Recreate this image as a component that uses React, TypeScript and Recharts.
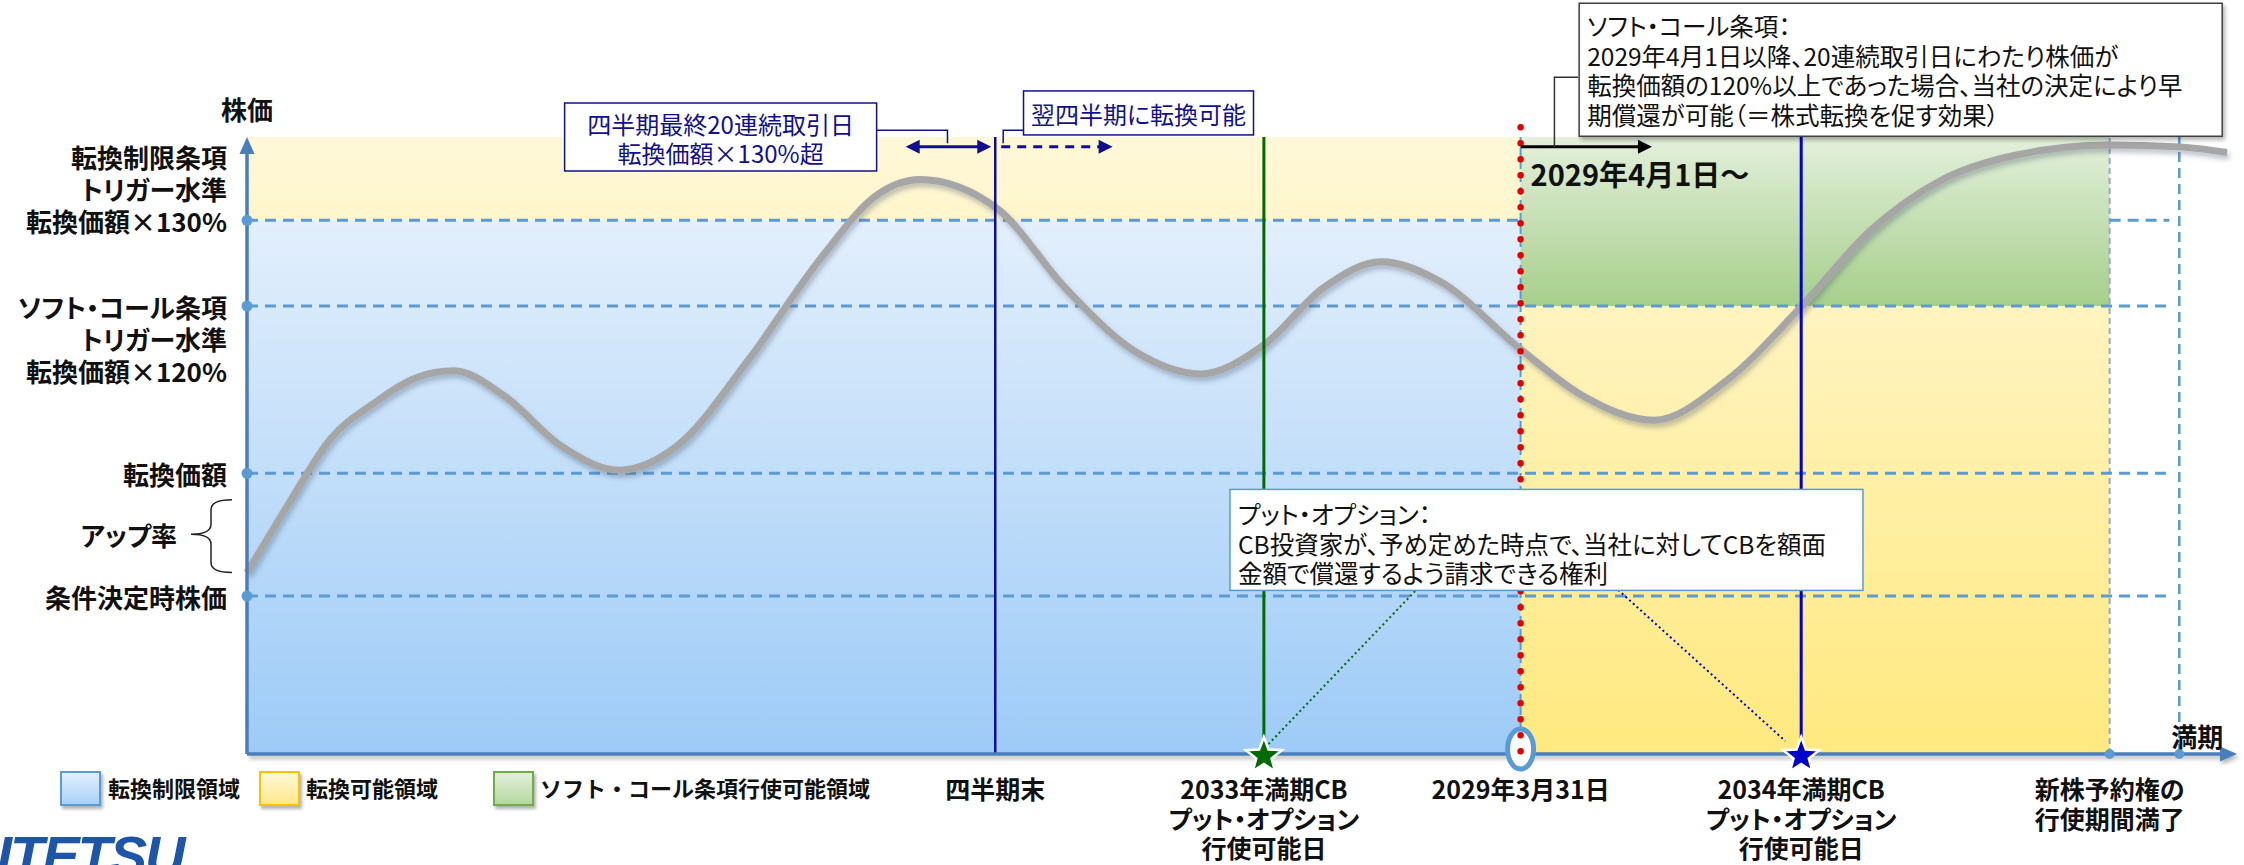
import React from 'react'
import { ComposedChart, Line, XAxis, YAxis, ReferenceArea, ReferenceLine, ReferenceDot } from 'recharts'

document.body.style.margin = '0'
document.body.style.overflow = 'hidden'

const JP = '"Noto Sans CJK JP", "Noto Sans", sans-serif'

// stock price path: time 0-100 along the x axis, price index 0-100
const timeline = [0, 2.1, 4.2, 6.4, 8.6, 10.4, 12.9, 15.8, 18.7, 21.6, 25.2, 28.8, 31.7, 33.8, 37.7, 41.1, 44.7, 47.9, 51.1, 54.1, 57.0, 59.9, 64.0, 67.1, 70.7, 74.3, 78.1, 81.6, 85.2, 88.8, 93.6, 97.1, 99.5]
const price = [29.4, 40.6, 51.1, 56.9, 61.1, 62.1, 58.1, 49.9, 46.0, 49.9, 63.9, 80.2, 90.7, 93.1, 88.4, 75.6, 65.1, 61.6, 66.3, 75.6, 79.8, 76.7, 65.6, 58.1, 54.1, 60.4, 72.5, 84.9, 93.1, 97.0, 98.7, 98.4, 97.5]

// price levels on the y axis
const levelValues = [86.5, 72.6, 45.5, 25.6]
const levelLabels = [
  ['転換制限条項', 'トリガー水準', '転換価額×130%'],
  ['ソフト・コール条項', 'トリガー水準', '転換価額×120%'],
  ['転換価額'],
  ['条件決定時株価'],
]
const levelAnchorLine = [2, 0, 0, 0]
const upRateRange = [29.4, 41.2]

// events on the time axis
const eventTimes = [37.6, 51.1, 64.0, 78.1, 93.6]
const eventLabels = [
  ['四半期末'],
  ['2033年満期CB', 'プット・オプション', '行使可能日'],
  ['2029年3月31日'],
  ['2034年満期CB', 'プット・オプション', '行使可能日'],
  ['新株予約権の', '行使期間満了'],
]
const maturityTime = 97.1
const callStartTime = 64.0
const warrantEndTime = 93.6

const legendLabels = ['転換制限領域', '転換可能領域', 'ソフト・コール条項行使可能領域']

const quarterNote = ['四半期最終20連続取引日', '転換価額×130%超']
const nextQuarterNote = ['翌四半期に転換可能']
const softCallNote = [
  'ソフト・コール条項：',
  '2029年4月1日以降、20連続取引日にわたり株価が',
  '転換価額の120%以上であった場合、当社の決定により早',
  '期償還が可能（＝株式転換を促す効果）',
]
const putNote = [
  'プット・オプション：',
  'CB投資家が、予め定めた時点で、当社に対してCBを額面',
  '金額で償還するよう請求できる権利',
]

const data = timeline.map((t, i) => ({ t, price: price[i] }))

const AXIS = '#4A7EBB'
const GUIDE = '#5B9BD5'
const NAVY = '#10108F'
const GREEN = '#006B00'
const BLUE = '#0000CC'
const RED = '#E00000'

const head = (x: number, y: number, ang: number, len: number, w: number, color: string) => {
  const bx = x - len * Math.cos(ang)
  const by = y - len * Math.sin(ang)
  const px = (-Math.sin(ang) * w) / 2
  const py = (Math.cos(ang) * w) / 2
  return <polygon points={`${x},${y} ${bx + px},${by + py} ${bx - px},${by - py}`} fill={color} />
}

const arrowShape = (color: string, width: number, opt: any = {}) => (p: any) => {
  const { x1, y1, x2, y2 } = p
  const len = opt.len ?? 14
  const w = opt.w ?? 14
  const ang = Math.atan2(y2 - y1, x2 - x1)
  const sx = opt.start ? x1 + len * 0.8 * Math.cos(ang) : x1
  const sy = opt.start ? y1 + len * 0.8 * Math.sin(ang) : y1
  const ex = x2 - len * 0.8 * Math.cos(ang)
  const ey = y2 - len * 0.8 * Math.sin(ang)
  return (
    <g filter={opt.shadow ? 'url(#softShadow)' : undefined}>
      <line x1={sx} y1={sy} x2={ex} y2={ey} stroke={color} strokeWidth={width} strokeDasharray={opt.dash} />
      {opt.start && head(x1, y1, ang + Math.PI, len, w, color)}
      {head(x2, y2, ang, len, w, color)}
    </g>
  )
}

const elbowShape = (color: string) => (p: any) => (
  <path d={`M${p.x1},${p.y1}H${p.x2}V${p.y2}`} fill="none" stroke={color} strokeWidth={1.5} />
)

const braceShape = (p: any) => {
  const x = p.x1
  const top = Math.min(p.y1, p.y2)
  const bot = Math.max(p.y1, p.y2)
  const xr = x - 15
  const xm = x - 36
  const xl = x - 56
  const mid = (top + bot) / 2 - 2
  const r = 10
  const d = `M${xr},${top} Q${xm},${top} ${xm},${top + r} L${xm},${mid - r} Q${xm},${mid} ${xl},${mid} Q${xm},${mid} ${xm},${mid + r} L${xm},${bot - r} Q${xm},${bot} ${xr},${bot}`
  return (
    <g>
      <path d={d} fill="none" stroke="#222" strokeWidth={1.5} />
      <text x={x - 70} y={mid} textAnchor="end" dominantBaseline="central" fontSize={26} fontWeight={700} fill="#111" fontFamily={JP}>
        アップ率
      </text>
    </g>
  )
}

const calloutShape = (lines: string[], o: any) => (p: any) => {
  const { cx, cy } = p
  const left = cx - o.w / 2
  const top = cy - o.h / 2
  const first = cy + (o.dy ?? 0) - ((lines.length - 1) * o.gap) / 2
  const tx = o.center ? cx : left + 8
  return (
    <g>
      <rect x={left} y={top} width={o.w} height={o.h} fill="#fff" stroke={o.border} strokeWidth={1.5} filter={o.shadow ? 'url(#softShadow)' : undefined} />
      <text
        x={tx}
        y={first}
        textAnchor={o.center ? 'middle' : 'start'}
        dominantBaseline="central"
        fontSize={o.size}
        fill={o.color}
        fontFamily={JP}
      >
        {lines.map((s, i) => (
          <tspan key={i} x={tx} dy={i ? o.gap : 0}>
            {s}
          </tspan>
        ))}
      </text>
    </g>
  )
}

const starShape = (fill: string) => (p: any) => {
  const pts: string[] = []
  for (let i = 0; i < 10; i++) {
    const a = ((-90 + i * 36) * Math.PI) / 180
    const rr = i % 2 ? 8 : 19
    pts.push(`${p.cx + rr * Math.cos(a)},${p.cy + 2 + rr * Math.sin(a)}`)
  }
  return <polygon points={pts.join(' ')} fill={fill} stroke="#fff" strokeWidth={2.5} />
}

const ringShape = (p: any) => (
  <ellipse cx={p.cx} cy={p.cy - 5} rx={13} ry={20} fill="#fff" stroke={GUIDE} strokeWidth={5} />
)

const textShape = (s: string, dx: number, dy: number, o: any = {}) => (p: any) => (
  <text
    x={p.cx + dx}
    y={p.cy + dy}
    textAnchor={o.anchor ?? 'middle'}
    dominantBaseline="central"
    fontSize={o.size ?? 26}
    fontWeight={o.weight ?? 700}
    fill="#111"
    fontFamily={JP}
  >
    {s}
  </text>
)

const YTick = (p: any) => {
  const i = levelValues.indexOf(p.payload.value)
  if (i < 0) return null
  const a = levelAnchorLine[i]
  return (
    <text x={p.x} y={p.y - a * 32} textAnchor="end" dominantBaseline="central" fontSize={26} fontWeight={700} fill="#111" fontFamily={JP}>
      {levelLabels[i].map((s, k) => (
        <tspan key={k} x={p.x} dy={k ? 32 : 0}>
          {s}
        </tspan>
      ))}
    </text>
  )
}

const XTick = (p: any) => {
  const i = eventTimes.indexOf(p.payload.value)
  if (i < 0) return null
  return (
    <text x={p.x} y={p.y + 34} textAnchor="middle" dominantBaseline="central" fontSize={25} fontWeight={700} fill="#111" fontFamily={JP}>
      {eventLabels[i].map((s, k) => (
        <tspan key={k} x={p.x} dy={k ? 29.5 : 0}>
          {s}
        </tspan>
      ))}
    </text>
  )
}

const legendStyles = [
  { left: 60, text: 108, bg: 'linear-gradient(#E3EFFC, #A9D1F8)', border: '#5B9BD5' },
  { left: 259, text: 306, bg: 'linear-gradient(#FFF8D8, #FFE98A)', border: '#FFC000' },
  { left: 493, text: 540, bg: 'linear-gradient(#E3F0DB, #B5D89E)', border: '#70AD47' },
]

export default function App() {
  const dash = { stroke: GUIDE, strokeWidth: 3, strokeDasharray: '11 7' }
  return (
    <div
      style={{
        position: 'relative',
        width: 2244,
        height: 865,
        overflow: 'hidden',
        background: '#fff',
        fontFamily: JP,
        fontFeatureSettings: '"palt"',
      }}
    >
      <ComposedChart width={2244} height={865} data={data} margin={{ top: 137, right: 7, bottom: 81, left: 0 }}>
        <defs>
          <linearGradient id="gYellow" x1="0" y1="0" x2="0" y2="1">
            <stop offset="0%" stopColor="#FFF8D8" />
            <stop offset="100%" stopColor="#FFE97F" />
          </linearGradient>
          <linearGradient id="gBlue" x1="0" y1="0" x2="0" y2="1">
            <stop offset="0%" stopColor="#E3EFFC" />
            <stop offset="100%" stopColor="#9DCBF7" />
          </linearGradient>
          <linearGradient id="gGreen" x1="0" y1="0" x2="0" y2="1">
            <stop offset="0%" stopColor="#E3F0DB" />
            <stop offset="100%" stopColor="#A6CF8B" />
          </linearGradient>
          <filter id="curveShadow" x="-5%" y="-20%" width="110%" height="140%">
            <feDropShadow dx="2" dy="4" stdDeviation="2.5" floodColor="#44546A" floodOpacity="0.35" />
          </filter>
          <filter id="softShadow" x="-10%" y="-10%" width="120%" height="130%">
            <feDropShadow dx="2" dy="3" stdDeviation="2" floodColor="#000" floodOpacity="0.3" />
          </filter>
        </defs>

        <XAxis
          type="number"
          dataKey="t"
          domain={[0, 100]}
          ticks={eventTimes}
          interval={0}
          axisLine={false}
          tickLine={false}
          tickSize={0}
          tickMargin={0}
          tick={(p: any) => <XTick {...p} />}
        />
        <YAxis
          type="number"
          domain={[0, 100]}
          ticks={levelValues}
          interval={0}
          width={247}
          axisLine={false}
          tickLine={false}
          tickSize={0}
          tickMargin={20}
          tick={(p: any) => <YTick {...p} />}
        />

        {/* regions */}
        <ReferenceArea x1={0} x2={warrantEndTime} y1={0} y2={100} fill="url(#gYellow)" fillOpacity={1} zIndex={100} />
        <ReferenceArea x1={0} x2={callStartTime} y1={0} y2={levelValues[0]} fill="url(#gBlue)" fillOpacity={1} zIndex={110} />
        <ReferenceArea x1={callStartTime} x2={warrantEndTime} y1={levelValues[1]} y2={100} fill="url(#gGreen)" fillOpacity={1} zIndex={120} />

        {/* vertical guides */}
        <ReferenceLine segment={[{ x: callStartTime, y: 0 }, { x: callStartTime, y: 100 }]} stroke={GUIDE} strokeWidth={2} strokeDasharray="8 5" zIndex={200} />
        <ReferenceLine segment={[{ x: warrantEndTime, y: 0 }, { x: warrantEndTime, y: 100 }]} stroke="#8FAACC" strokeWidth={2} strokeDasharray="6 4" zIndex={200} />
        <ReferenceLine segment={[{ x: maturityTime, y: 0 }, { x: maturityTime, y: 100 }]} stroke={GUIDE} strokeWidth={2.5} strokeDasharray="10 6" zIndex={200} />

        {/* horizontal price levels */}
        <ReferenceLine segment={[{ x: 0, y: levelValues[0] }, { x: callStartTime, y: levelValues[0] }]} {...dash} zIndex={300} />
        <ReferenceLine segment={[{ x: warrantEndTime, y: levelValues[0] }, { x: 96.6, y: levelValues[0] }]} {...dash} zIndex={300} />
        {levelValues.slice(1).map((v) => (
          <ReferenceLine key={v} segment={[{ x: 0, y: v }, { x: 96.6, y: v }]} {...dash} zIndex={300} />
        ))}

        <Line
          type="monotone"
          dataKey="price"
          stroke="#A6A6A6"
          strokeWidth={7}
          dot={false}
          activeDot={false}
          isAnimationActive={false}
          filter="url(#curveShadow)"
          zIndex={350}
        />

        {/* event lines */}
        <ReferenceLine x={eventTimes[0]} stroke={NAVY} strokeWidth={2.5} zIndex={450} />
        <ReferenceLine x={eventTimes[1]} stroke={GREEN} strokeWidth={3} zIndex={450} />
        <ReferenceLine x={eventTimes[3]} stroke={BLUE} strokeWidth={3} zIndex={450} />

        {/* axes */}
        <ReferenceLine segment={[{ x: 0, y: 0 }, { x: 0, y: 100 }]} ifOverflow="visible" shape={arrowShape(AXIS, 3.5, { len: 17, w: 15 })} zIndex={600} />
        <ReferenceLine segment={[{ x: 0, y: 0 }, { x: 100, y: 0 }]} ifOverflow="visible" shape={arrowShape(AXIS, 3.5, { len: 17, w: 15, shadow: true })} zIndex={600} />
        {levelValues.map((v) => (
          <ReferenceDot key={v} x={0} y={v} r={5.5} fill={GUIDE} stroke="none" zIndex={650} />
        ))}
        <ReferenceDot x={warrantEndTime} y={0} r={5} fill={GUIDE} stroke="none" zIndex={650} />
        <ReferenceDot x={maturityTime} y={0} r={5} fill={GUIDE} stroke="none" zIndex={650} />

        {/* 2029-03-31 marker */}
        <ReferenceDot x={callStartTime} y={0} ifOverflow="visible" shape={ringShape} zIndex={700} />
        <ReferenceLine
          segment={[{ x: callStartTime, y: 101.6 }, { x: callStartTime, y: -0.8 }]}
          ifOverflow="visible"
          stroke={RED}
          strokeWidth={6.5}
          strokeLinecap="round"
          strokeDasharray="0 16"
          zIndex={750}
        />

        {/* put option pointers and stars */}
        <ReferenceLine segment={[{ x: 58.7, y: 26.4 }, { x: 51.3, y: 1.5 }]} stroke={GREEN} strokeWidth={2} strokeDasharray="2 3" zIndex={800} />
        <ReferenceLine segment={[{ x: 68.9, y: 26.6 }, { x: 77.3, y: 2.1 }]} stroke={BLUE} strokeWidth={2} strokeDasharray="2 3" zIndex={800} />
        <ReferenceDot x={eventTimes[1]} y={0} ifOverflow="visible" shape={starShape(GREEN)} zIndex={900} />
        <ReferenceDot x={eventTimes[3]} y={0} ifOverflow="visible" shape={starShape(BLUE)} zIndex={900} />

        {/* quarter-end annotation */}
        <ReferenceLine segment={[{ x: 33.1, y: 98.4 }, { x: 37.4, y: 98.4 }]} ifOverflow="visible" shape={arrowShape(NAVY, 3, { start: true })} zIndex={900} />
        <ReferenceLine segment={[{ x: 37.9, y: 98.4 }, { x: 43.5, y: 98.4 }]} ifOverflow="visible" shape={arrowShape(NAVY, 3, { dash: '9 7' })} zIndex={900} />
        <ReferenceLine segment={[{ x: 31.6, y: 101.1 }, { x: 35.2, y: 99.0 }]} ifOverflow="visible" shape={elbowShape(NAVY)} zIndex={900} />
        <ReferenceLine segment={[{ x: 39.0, y: 101.1 }, { x: 38.0, y: 99.0 }]} ifOverflow="visible" shape={elbowShape(NAVY)} zIndex={900} />
        <ReferenceDot x={23.8} y={100} ifOverflow="visible" zIndex={1500}
          shape={calloutShape(quarterNote, { w: 312, h: 68, gap: 29, size: 24, color: NAVY, border: NAVY, center: true })} />
        <ReferenceDot x={44.8} y={103.9} ifOverflow="visible" zIndex={1500}
          shape={calloutShape(nextQuarterNote, { w: 230, h: 44, gap: 29, size: 24, color: NAVY, border: NAVY, center: true })} />

        {/* soft call annotation */}
        <ReferenceLine segment={[{ x: callStartTime, y: 98.4 }, { x: 70.6, y: 98.4 }]} ifOverflow="visible" shape={arrowShape('#000', 3)} zIndex={900} />
        <ReferenceLine segment={[{ x: 66.9, y: 109.7 }, { x: 65.7, y: 98.4 }]} ifOverflow="visible" shape={elbowShape('#333')} zIndex={900} />
        <ReferenceDot x={callStartTime} y={98.4} ifOverflow="visible" zIndex={1500}
          shape={textShape('2029年4月1日〜', 10, 26, { anchor: 'start', size: 29 })} />
        <ReferenceDot x={83.1} y={110.9} ifOverflow="visible" zIndex={1500}
          shape={calloutShape(softCallNote, { w: 643, h: 133, gap: 29.5, size: 24.5, color: '#111', border: '#404040', shadow: true })} />

        {/* put option annotation */}
        <ReferenceDot x={65.3} y={34.7} ifOverflow="visible" zIndex={1500}
          shape={calloutShape(putNote, { w: 633, h: 101, gap: 29.5, dy: 3, size: 24.5, color: '#111', border: GUIDE })} />

        {/* axis titles */}
        <ReferenceLine segment={[{ x: 0, y: upRateRange[0] }, { x: 0, y: upRateRange[1] }]} ifOverflow="visible" shape={braceShape} zIndex={1500} />
        <ReferenceDot x={0} y={100} ifOverflow="visible" zIndex={1500} shape={textShape('株価', 0, -29)} />
        <ReferenceDot x={maturityTime} y={0} ifOverflow="visible" zIndex={1500} shape={textShape('満期', 18, -19)} />
      </ComposedChart>

      {legendLabels.map((s, i) => (
        <React.Fragment key={s}>
          <div
            style={{
              position: 'absolute',
              left: legendStyles[i].left,
              top: 771,
              width: 37,
              height: 31,
              background: legendStyles[i].bg,
              border: `2.5px solid ${legendStyles[i].border}`,
              boxShadow: '2px 3px 3px rgba(0,0,0,0.3)',
            }}
          />
          <div
            style={{
              position: 'absolute',
              left: legendStyles[i].text,
              top: 771,
              lineHeight: '32px',
              fontSize: 22,
              fontWeight: 700,
              color: '#111',
              whiteSpace: 'nowrap',
              fontFeatureSettings: 'normal',
            }}
          >
            {s}
          </div>
        </React.Fragment>
      ))}

      <div
        style={{
          position: 'absolute',
          left: -42,
          top: 828,
          fontFamily: '"Liberation Sans", Arial, sans-serif',
          fontSize: 56,
          fontStyle: 'italic',
          fontWeight: 700,
          color: '#1D56A8',
          lineHeight: '56px',
          letterSpacing: -2,
        }}
      >
        NITETSU
      </div>
    </div>
  )
}
